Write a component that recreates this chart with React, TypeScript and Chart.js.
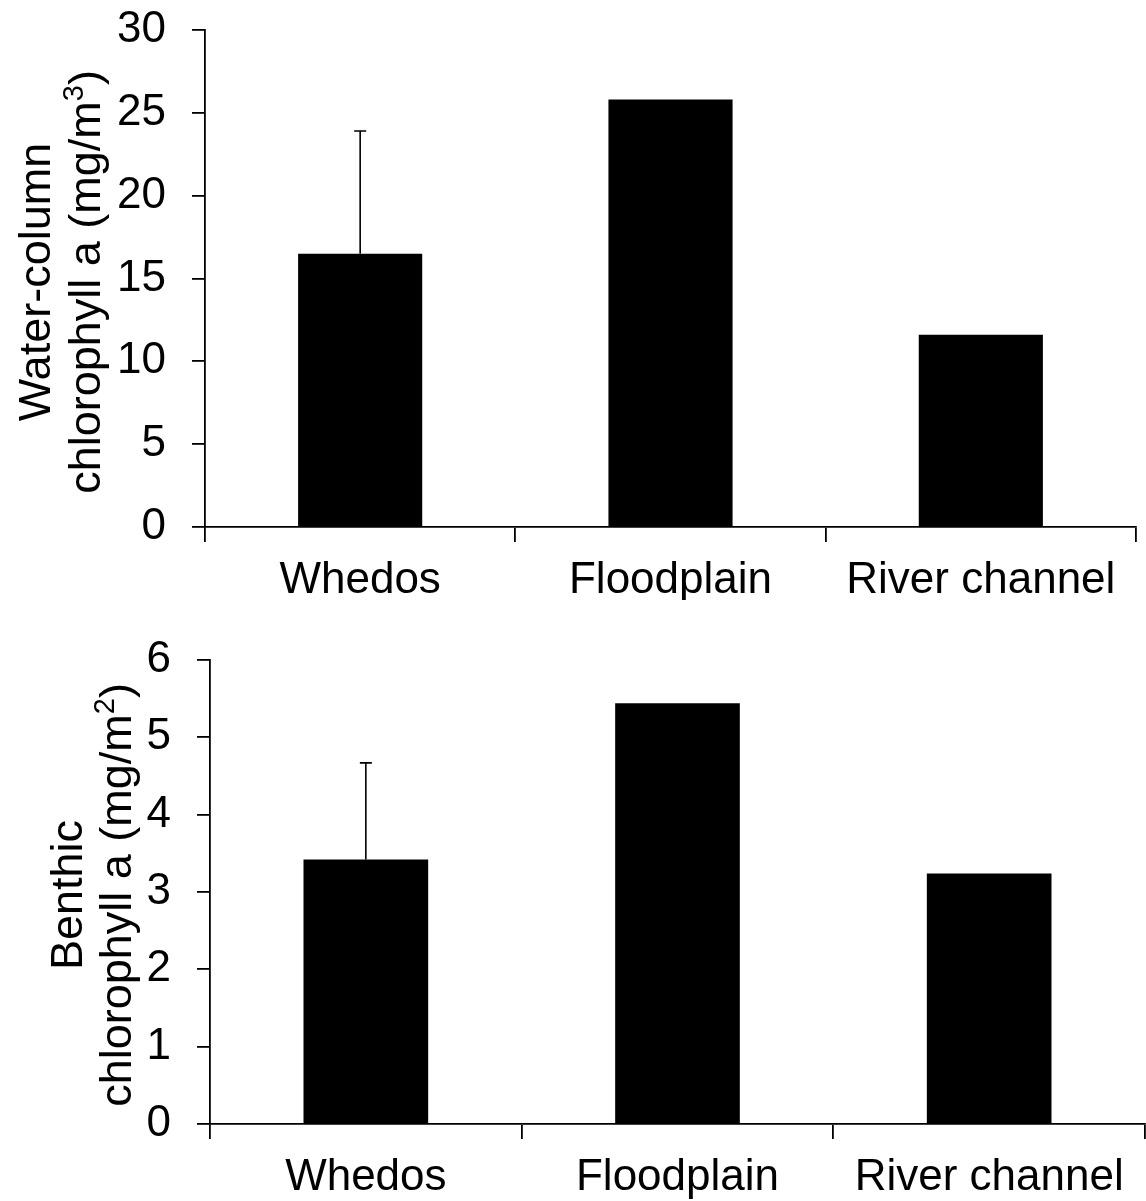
import React, { useEffect, useRef } from "react";
import { Chart, registerables } from "chart.js";

Chart.register(...registerables);

// Sites sampled
const categories = ["Whedos", "Floodplain", "River channel"];

// Water-column chlorophyll a (mg/m3): means and upper error
const waterColumnChl = [16.5, 25.8, 11.6];
const waterColumnErr = [7.4, 0, 0];
const waterColumnTicks = [0, 5, 10, 15, 20, 25, 30];

// Benthic chlorophyll a (mg/m2): means and upper error
const benthicChl = [3.42, 5.44, 3.24];
const benthicErr = [1.25, 0, 0];
const benthicTicks = [0, 1, 2, 3, 4, 5, 6];

const FONT = "'Liberation Sans', Arial, Helvetica, sans-serif";
const W = 1146;

type TitlePart = { text: string; sup?: boolean };

interface PanelSpec {
  values: number[];
  errors: number[];
  ticks: number[];
  height: number;
  area: { left: number; right: number; top: number; bottom: number };
  titleLine1: TitlePart[];
  titleLine2: TitlePart[];
  titleBaselines: [number, number];
  titleCenterY: number;
}

const panels: PanelSpec[] = [
  {
    values: waterColumnChl,
    errors: waterColumnErr,
    ticks: waterColumnTicks,
    height: 600,
    area: { left: 205, right: 1136, top: 30, bottom: 527 },
    titleLine1: [{ text: "Water-column" }],
    titleLine2: [{ text: "chlorophyll a (mg/m" }, { text: "3", sup: true }, { text: ")" }],
    titleBaselines: [50, 100],
    titleCenterY: 282,
  },
  {
    values: benthicChl,
    errors: benthicErr,
    ticks: benthicTicks,
    height: 601,
    area: { left: 210, right: 1145, top: 60, bottom: 524 },
    titleLine1: [{ text: "Benthic" }],
    titleLine2: [{ text: "chlorophyll a (mg/m" }, { text: "2", sup: true }, { text: ")" }],
    titleBaselines: [82, 131],
    titleCenterY: 295,
  },
];

const TITLE_SIZE = 45;
const SUP_SIZE = 29;

function drawRotatedLine(ctx: CanvasRenderingContext2D, parts: TitlePart[], baselineX: number, centerY: number) {
  const fontFor = (p: TitlePart) => `${p.sup ? SUP_SIZE : TITLE_SIZE}px ${FONT}`;
  let total = 0;
  const widths = parts.map((p) => {
    ctx.font = fontFor(p);
    const w = ctx.measureText(p.text).width;
    total += w;
    return w;
  });
  ctx.save();
  ctx.translate(baselineX, centerY);
  ctx.rotate(-Math.PI / 2);
  ctx.fillStyle = "#000";
  ctx.textBaseline = "alphabetic";
  ctx.textAlign = "left";
  let x = -total / 2;
  parts.forEach((p, i) => {
    ctx.font = fontFor(p);
    ctx.fillText(p.text, x, p.sup ? -17 : 0);
    x += widths[i];
  });
  ctx.restore();
}

function Panel({ spec }: { spec: PanelSpec }) {
  const ref = useRef<HTMLCanvasElement | null>(null);

  useEffect(() => {
    const canvas = ref.current;
    if (!canvas) return;

    const errorBars = {
      id: "errorBars",
      afterDatasetsDraw(chart: any) {
        const ctx = chart.ctx as CanvasRenderingContext2D;
        const meta = chart.getDatasetMeta(0);
        const y = chart.scales.y;
        ctx.save();
        ctx.strokeStyle = "#000";
        ctx.lineWidth = 1.6;
        spec.values.forEach((v, i) => {
          const e = spec.errors[i];
          if (!e) return;
          const x = meta.data[i].x;
          const yBar = y.getPixelForValue(v);
          const yTop = y.getPixelForValue(v + e);
          ctx.beginPath();
          ctx.moveTo(x, yBar);
          ctx.lineTo(x, yTop);
          ctx.moveTo(x - 6, yTop);
          ctx.lineTo(x + 6, yTop);
          ctx.stroke();
        });
        ctx.restore();
      },
    };

    const yTitle = {
      id: "yTitle",
      afterDraw(chart: any) {
        const ctx = chart.ctx as CanvasRenderingContext2D;
        drawRotatedLine(ctx, spec.titleLine1, spec.titleBaselines[0], spec.titleCenterY);
        drawRotatedLine(ctx, spec.titleLine2, spec.titleBaselines[1], spec.titleCenterY);
      },
    };

    const chart = new Chart(canvas, {
      type: "bar",
      data: {
        labels: categories,
        datasets: [
          {
            data: spec.values,
            backgroundColor: "#000",
            borderWidth: 0,
            barPercentage: 0.4,
            categoryPercentage: 1.0,
          },
        ],
      },
      options: {
        responsive: false,
        animation: false,
        devicePixelRatio: 1,
        layout: {
          padding: {
            left: 0,
            top: spec.area.top,
            right: W - spec.area.right,
            bottom: 0,
          },
        },
        plugins: {
          legend: { display: false },
          tooltip: { enabled: false },
        },
        scales: {
          x: {
            grid: {
              display: true,
              offset: true,
              drawOnChartArea: false,
              drawTicks: true,
              tickLength: 15,
              color: "#000",
              lineWidth: 1.8,
            },
            border: { display: true, color: "#000", width: 1.8 },
            ticks: {
              color: "#000",
              font: { family: FONT, size: 44 },
              padding: 12,
              maxRotation: 0,
              autoSkip: false,
            },
            afterFit(scale: any) {
              scale.height = spec.height - spec.area.bottom;
              scale.paddingLeft = 0;
              scale.paddingRight = 0;
            },
          },
          y: {
            min: spec.ticks[0],
            max: spec.ticks[spec.ticks.length - 1],
            afterBuildTicks(scale: any) {
              scale.ticks = spec.ticks.map((v) => ({ value: v }));
            },
            grid: {
              display: true,
              drawOnChartArea: false,
              drawTicks: true,
              tickLength: 13,
              color: "#000",
              lineWidth: 1.8,
            },
            border: { display: true, color: "#000", width: 1.8 },
            ticks: {
              color: "#000",
              font: { family: FONT, size: 44 },
              padding: 26,
            },
            afterFit(scale: any) {
              scale.width = spec.area.left;
              scale.paddingTop = 0;
              scale.paddingBottom = 0;
            },
          },
        },
      },
      plugins: [errorBars, yTitle],
    });

    return () => chart.destroy();
  }, [spec]);

  return (
    <canvas
      ref={ref}
      width={W}
      height={spec.height}
      style={{ display: "block", width: W, height: spec.height }}
    />
  );
}

export default function App() {
  return (
    <div
      style={{
        position: "absolute",
        left: 0,
        top: 0,
        width: W,
        height: 1201,
        background: "#fff",
      }}
    >
      {panels.map((p, i) => (
        <Panel key={i} spec={p} />
      ))}
    </div>
  );
}
